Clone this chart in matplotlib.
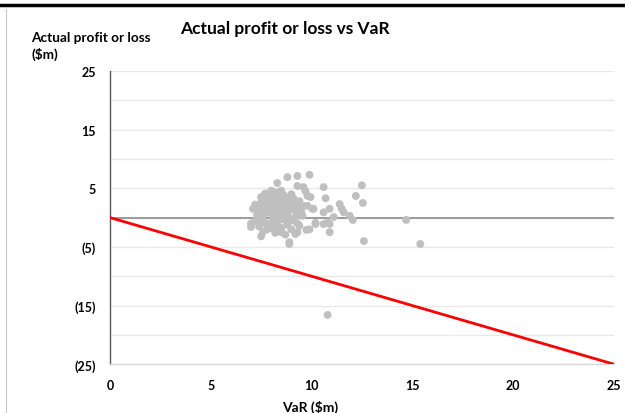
import matplotlib.pyplot as plt
from matplotlib.lines import Line2D

plt.rcParams['font.family'] = ['Lato', 'DejaVu Sans']

# =========================
# DATA
# =========================

var_m = [
    # dense cluster
    7.0, 7.1, 7.2, 7.3, 7.3, 7.4, 7.4, 7.5, 7.5, 7.5, 7.6, 7.6, 7.6, 7.7, 7.7, 7.7,
    7.8, 7.8, 7.8, 7.9, 7.9, 7.9, 8.0, 8.0, 8.0, 8.0, 8.1, 8.1, 8.1, 8.2, 8.2, 8.2,
    8.2, 8.3, 8.3, 8.3, 8.4, 8.4, 8.4, 8.5, 8.5, 8.5, 8.5, 8.6, 8.6, 8.6, 8.7, 8.7,
    8.7, 8.8, 8.8, 8.8, 8.9, 8.9, 9.0, 9.0, 9.0, 9.1, 9.1, 9.2, 9.2, 9.3, 9.3, 9.4,
    9.4, 9.5, 9.6, 7.2, 7.4, 7.9, 8.1, 8.4, 8.6, 8.9, 7.6, 8.0, 8.3, 8.8, 9.1, 7.8,
    # upper and right part
    8.3, 8.8, 9.3, 9.9, 9.3, 9.6, 9.7, 10.6, 10.7, 9.4, 9.8, 9.95, 10.1, 9.55,
    9.8, 10.05, 10.6, 10.9, 11.4, 11.5, 11.6, 11.9, 12.05, 12.2, 12.5, 12.55,
    10.2, 10.6, 10.9, 10.9, 9.9, 9.75, 9.3, 9.2, 11.1, 10.8, 10.2,
    # lower part and outliers
    7.5, 8.5, 8.9, 8.9, 7.0, 12.6, 14.7, 15.4, 10.8,
]
pnl_m = [
    -1.0, 1.5, 2.2, 0.5, -0.4, 1.3, -1.5, 3.5, -0.2, 2.6, 1.8, -2.4, 0.9, 2.9, -0.9, 4.1,
    0.8, -2.0, 3.0, 3.8, 2.4, -1.1, 3.2, 1.5, -1.2, 4.6, 2.2, 0.3, -1.9, 0.4, -2.6, 2.9,
    4.3, 3.6, -0.8, 1.1, 2.7, 0.1, -1.6, 1.2, -1.8, 4.6, 3.0, -0.3, 3.9, 1.9, 2.0, -2.9,
    0.6, 0.7, -1.2, 3.4, 2.8, -0.1, 4.0, 1.4, -2.0, 3.3, -0.5, 0.2, 2.3, 1.0, -1.0, 1.6,
    -1.4, 1.0, 2.0, -0.6, 0.8, 1.2, -0.3, 2.2, 0.9, 1.7, 0.2, 2.6, 3.1, 0.0, 1.9, 1.4,
    # upper and right part
    5.9, 6.9, 7.1, 7.3, 5.4, 5.2, 4.5, 5.2, 3.3, 2.8, 2.0, 3.5, 1.5, 0.3,
    3.7, 1.5, 0.9, 1.5, 2.3, 1.5, 0.9, 0.3, -0.4, 3.7, 5.5, 2.5,
    -1.1, -1.1, -1.1, -2.5, -2.0, -2.1, -2.5, -2.8, 0.1, -0.8, -0.9,
    # lower part and outliers
    -3.2, -2.5, -4.2, -4.5, -1.6, -4.0, -0.4, -4.5, -16.6,
]

line_x = [0, 25]
line_y = [0, -25]

x_ticks = [0, 5, 10, 15, 20, 25]
y_ticks = [-25, -15, -5, 5, 15, 25]
y_labels = ['(25)', '(15)', '(5)', '5', '15', '25']
y_grid = [-20, -10, 0, 10, 20]

# =========================
# PLOT
# =========================

fig = plt.figure(figsize=(6.25, 4.14), dpi=100)
ax = fig.add_axes([0.176, 0.118, 0.806, 0.708])

for g in y_grid + y_ticks:
    ax.axhline(g, color='#e8e8e8', lw=1.0, zorder=0)
ax.axhline(0, color='#8c8c8c', lw=1.2, zorder=1)

ax.scatter(var_m, pnl_m, s=32, color='#bfbfbf', edgecolors='none', zorder=2)
ax.plot(line_x, line_y, color='#ff0000', lw=2.0, zorder=3)

ax.set_xlim(0, 25)
ax.set_ylim(-25, 25)
ax.set_xticks(x_ticks)
ax.set_xticklabels([str(t) for t in x_ticks], fontsize=9, fontweight='bold')
ax.set_yticks(y_ticks)
ax.set_yticklabels(y_labels, fontsize=9, fontweight='bold')
ax.tick_params(length=0)
ax.tick_params(axis='x', pad=11)
ax.tick_params(axis='y', pad=10)

for s in ['top', 'right']:
    ax.spines[s].set_visible(False)
ax.spines['left'].set_color('#595959')
ax.spines['left'].set_linewidth(1.0)
ax.spines['bottom'].set_color('#d9d9d9')
ax.spines['bottom'].set_linewidth(1.0)

fig.text(0.456, 0.93, 'Actual profit or loss vs VaR', fontsize=12.5,
         fontweight='bold', ha='center', va='center')
fig.text(0.05, 0.888, 'Actual profit or loss\n($m)', fontsize=9.8,
         fontweight='bold', ha='left', va='center', linespacing=1.35)
fig.text(0.496, 0.016, 'VaR ($m)', fontsize=10, fontweight='bold',
         ha='center', va='center')

# screenshot frame lines
fig.add_artist(Line2D([0, 1], [0.985, 0.985], color='black', lw=2.5))
fig.add_artist(Line2D([0.009, 0.009], [0, 0.975], color='#c8c8c8', lw=0.8))

fig.savefig('out.png', dpi=100)
